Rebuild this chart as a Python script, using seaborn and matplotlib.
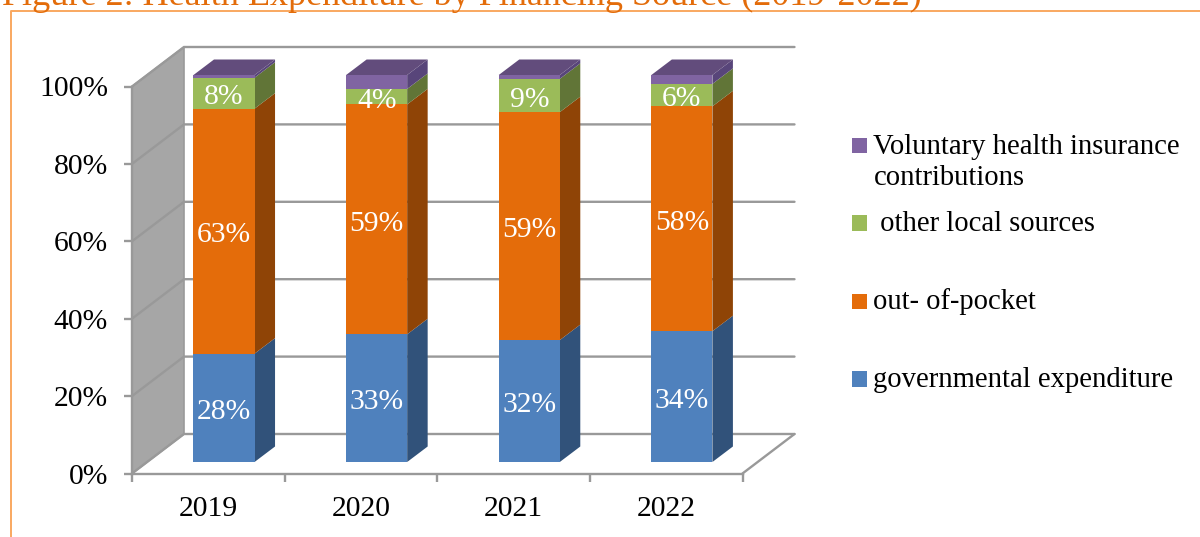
import matplotlib
matplotlib.use("Agg")
import matplotlib.pyplot as plt
from matplotlib.patches import Polygon, Rectangle, Patch
from matplotlib.legend_handler import HandlerPatch
from matplotlib.lines import Line2D
import pandas as pd
import seaborn as sns

# ---- data ----
years = ["2019", "2020", "2021", "2022"]
governmental = [28.0, 33.0, 31.5, 33.8]
out_of_pocket = [63.3, 59.4, 58.9, 58.1]
other_local = [8.0, 4.0, 8.6, 5.8]
voluntary = [0.7, 3.6, 1.0, 2.3]
series_names = ["governmental expenditure", "out- of-pocket", " other local sources",
                "Voluntary health insurance\ncontributions"]
y_ticks = [0, 20, 40, 60, 80, 100]
title_text = "Figure 2: Health Expenditure by Financing Source (2019-2022)"

# ---- style ----
W, H = 1200, 537
FONT = "Liberation Serif"
front_cols = ["#4F81BD", "#E46C0A", "#9BBB59", "#8064A2"]
side_cols = ["#31527A", "#8F4406", "#617537", "#58457A"]
top_col = "#624C7C"
grid_col = "#999999"
wall_col = "#A6A6A6"
border_col = "#F9A860"
title_col = "#E36C0A"

sns.set_theme(style="white")
plt.rcParams["font.family"] = [FONT, "DejaVu Serif"]

fig = plt.figure(figsize=(W / 100, H / 100), dpi=100)
fig.patch.set_facecolor("white")


def box(x0, x1, ytop, ybot):
    return [x0 / W, 1 - ybot / H, (x1 - x0) / W, (ybot - ytop) / H]


# background frame (open on the right) and clipped title
fig.add_artist(Line2D([10.5 / W, 10.5 / W, 1.0],
                      [0, 1 - 10.5 / H, 1 - 10.5 / H],
                      color=border_col, lw=1.4))
fig.text(2 / W, 1 - 5 / H, title_text, color=title_col, fontsize=26,
         ha="left", va="baseline", family=FONT)

# rear axes: front plane of the floor / wall
ax = fig.add_axes(box(132, 742.5, 86.5, 473.5))
ax.patch.set_alpha(0)
ax.set_xlim(-0.5, 3.5)
ax.set_ylim(0, 100)
depth_x = 52 / ((742.5 - 132) / 4)   # category units
depth_y = 39.5 / 3.87                # percent units
xl, xr = ax.get_xlim()

ax.add_patch(Polygon([(xl, 0), (xl + depth_x, depth_y), (xl + depth_x, 100 + depth_y), (xl, 100)],
                     closed=True, fc=wall_col, ec=grid_col, lw=1.2, clip_on=False, zorder=1))
for t in y_ticks:
    ax.plot([xl, xl + depth_x, xr + depth_x], [t, t + depth_y, t + depth_y],
            color=grid_col, lw=1.7, clip_on=False, zorder=2, solid_joinstyle="miter")
ax.plot([xr, xr + depth_x], [0, depth_y], color=grid_col, lw=1.7, clip_on=False, zorder=2)

for s in ["top", "right"]:
    ax.spines[s].set_visible(False)
for s in ["left", "bottom"]:
    ax.spines[s].set_color(grid_col)
    ax.spines[s].set_linewidth(1.7)
ax.set_yticks(y_ticks)
ax.set_yticklabels([f"{t}%" for t in y_ticks], fontsize=21.3, color="black")
ax.tick_params(axis="y", length=6, width=1.7, color=grid_col, pad=11.3, left=True)
ax.set_xticks(range(len(years)))
ax.set_xticklabels(years, fontsize=21.3, color="black")
ax.set_xticks([-0.5, 0.5, 1.5, 2.5, 3.5], minor=True)
ax.tick_params(axis="x", which="major", length=0, pad=16.5, bottom=False)
ax.tick_params(axis="x", which="minor", length=6, width=1.7, color=grid_col, bottom=True)

# front axes: stacked bars, shifted into the 3D box
ax2 = fig.add_axes(box(132 + 15.7, 742.5 + 15.7, 86.5 - 11.5, 473.5 - 11.5))
ax2.patch.set_alpha(0)
frame = pd.DataFrame({"year": years, "gov": governmental, "oop": out_of_pocket,
                      "other": other_local, "vol": voluntary})
bottom = [0.0] * len(years)
for col, c in zip(["gov", "oop", "other", "vol"], front_cols):
    sns.barplot(data=frame, x="year", y=col, bottom=bottom, color=c, saturation=1,
                width=0.4, linewidth=0, ax=ax2, zorder=5, errorbar=None)
    bottom = [b + v for b, v in zip(bottom, frame[col])]
ax2.set_xlim(-0.5, 3.5)
ax2.set_ylim(0, 100)
ax2.axis("off")

bar_dx = 20.5 / ((742.5 - 132) / 4)
bar_dy = 15.5 / 3.87
for i, cont in enumerate(ax2.containers):
    for b in cont:
        x1 = b.get_x() + b.get_width()
        y0, y1 = b.get_y(), b.get_y() + b.get_height()
        ax2.add_patch(Polygon([(x1, y0), (x1 + bar_dx, y0 + bar_dy),
                               (x1 + bar_dx, y1 + bar_dy), (x1, y1)],
                              closed=True, fc=side_cols[i], ec="none", clip_on=False, zorder=4))
for b in ax2.containers[-1]:
    x0, x1 = b.get_x(), b.get_x() + b.get_width()
    y1 = b.get_y() + b.get_height()
    ax2.add_patch(Polygon([(x0, y1), (x1, y1), (x1 + bar_dx, y1 + bar_dy), (x0 + bar_dx, y1 + bar_dy)],
                          closed=True, fc=top_col, ec="none", clip_on=False, zorder=4))
for cont in ax2.containers[:3]:
    for lab in ax2.bar_label(cont, fmt="%.0f%%", label_type="center", color="white",
                             fontsize=21.3, zorder=6):
        lab.xyann = (0, -3)


# legend: two real legends, because the two-line entry breaks the regular spacing
def handle(i):
    return Patch(fc=front_cols[i], ec="none")


def square(legend, orig_handle, xdescent, ydescent, width, height, fontsize):
    return Rectangle((-xdescent, -ydescent - 1), 11, 11)


def square_first_line(legend, orig_handle, xdescent, ydescent, width, height, fontsize):
    return Rectangle((-xdescent, -ydescent + 13), 11, 11)


kw = dict(frameon=False, fontsize=20.6, handlelength=0.53, handleheight=0.53, handletextpad=0.22,
          borderpad=0, borderaxespad=0, labelcolor="black")
lg1 = fig.legend([handle(3)], [series_names[3]], loc="upper left",
                 bbox_to_anchor=(852 / W, 1 - 134 / H),
                 handler_map={Patch: HandlerPatch(patch_func=square_first_line)}, **kw)
lg1.get_texts()[0].set_linespacing(1.27)
lg2 = fig.legend([handle(2), handle(1), handle(0)], [series_names[2], series_names[1], series_names[0]],
                 loc="upper left", bbox_to_anchor=(852 / W, 1 - 211 / H), labelspacing=1.8,
                 handler_map={Patch: HandlerPatch(patch_func=square)}, **kw)

fig.savefig("out.png", dpi=100)
